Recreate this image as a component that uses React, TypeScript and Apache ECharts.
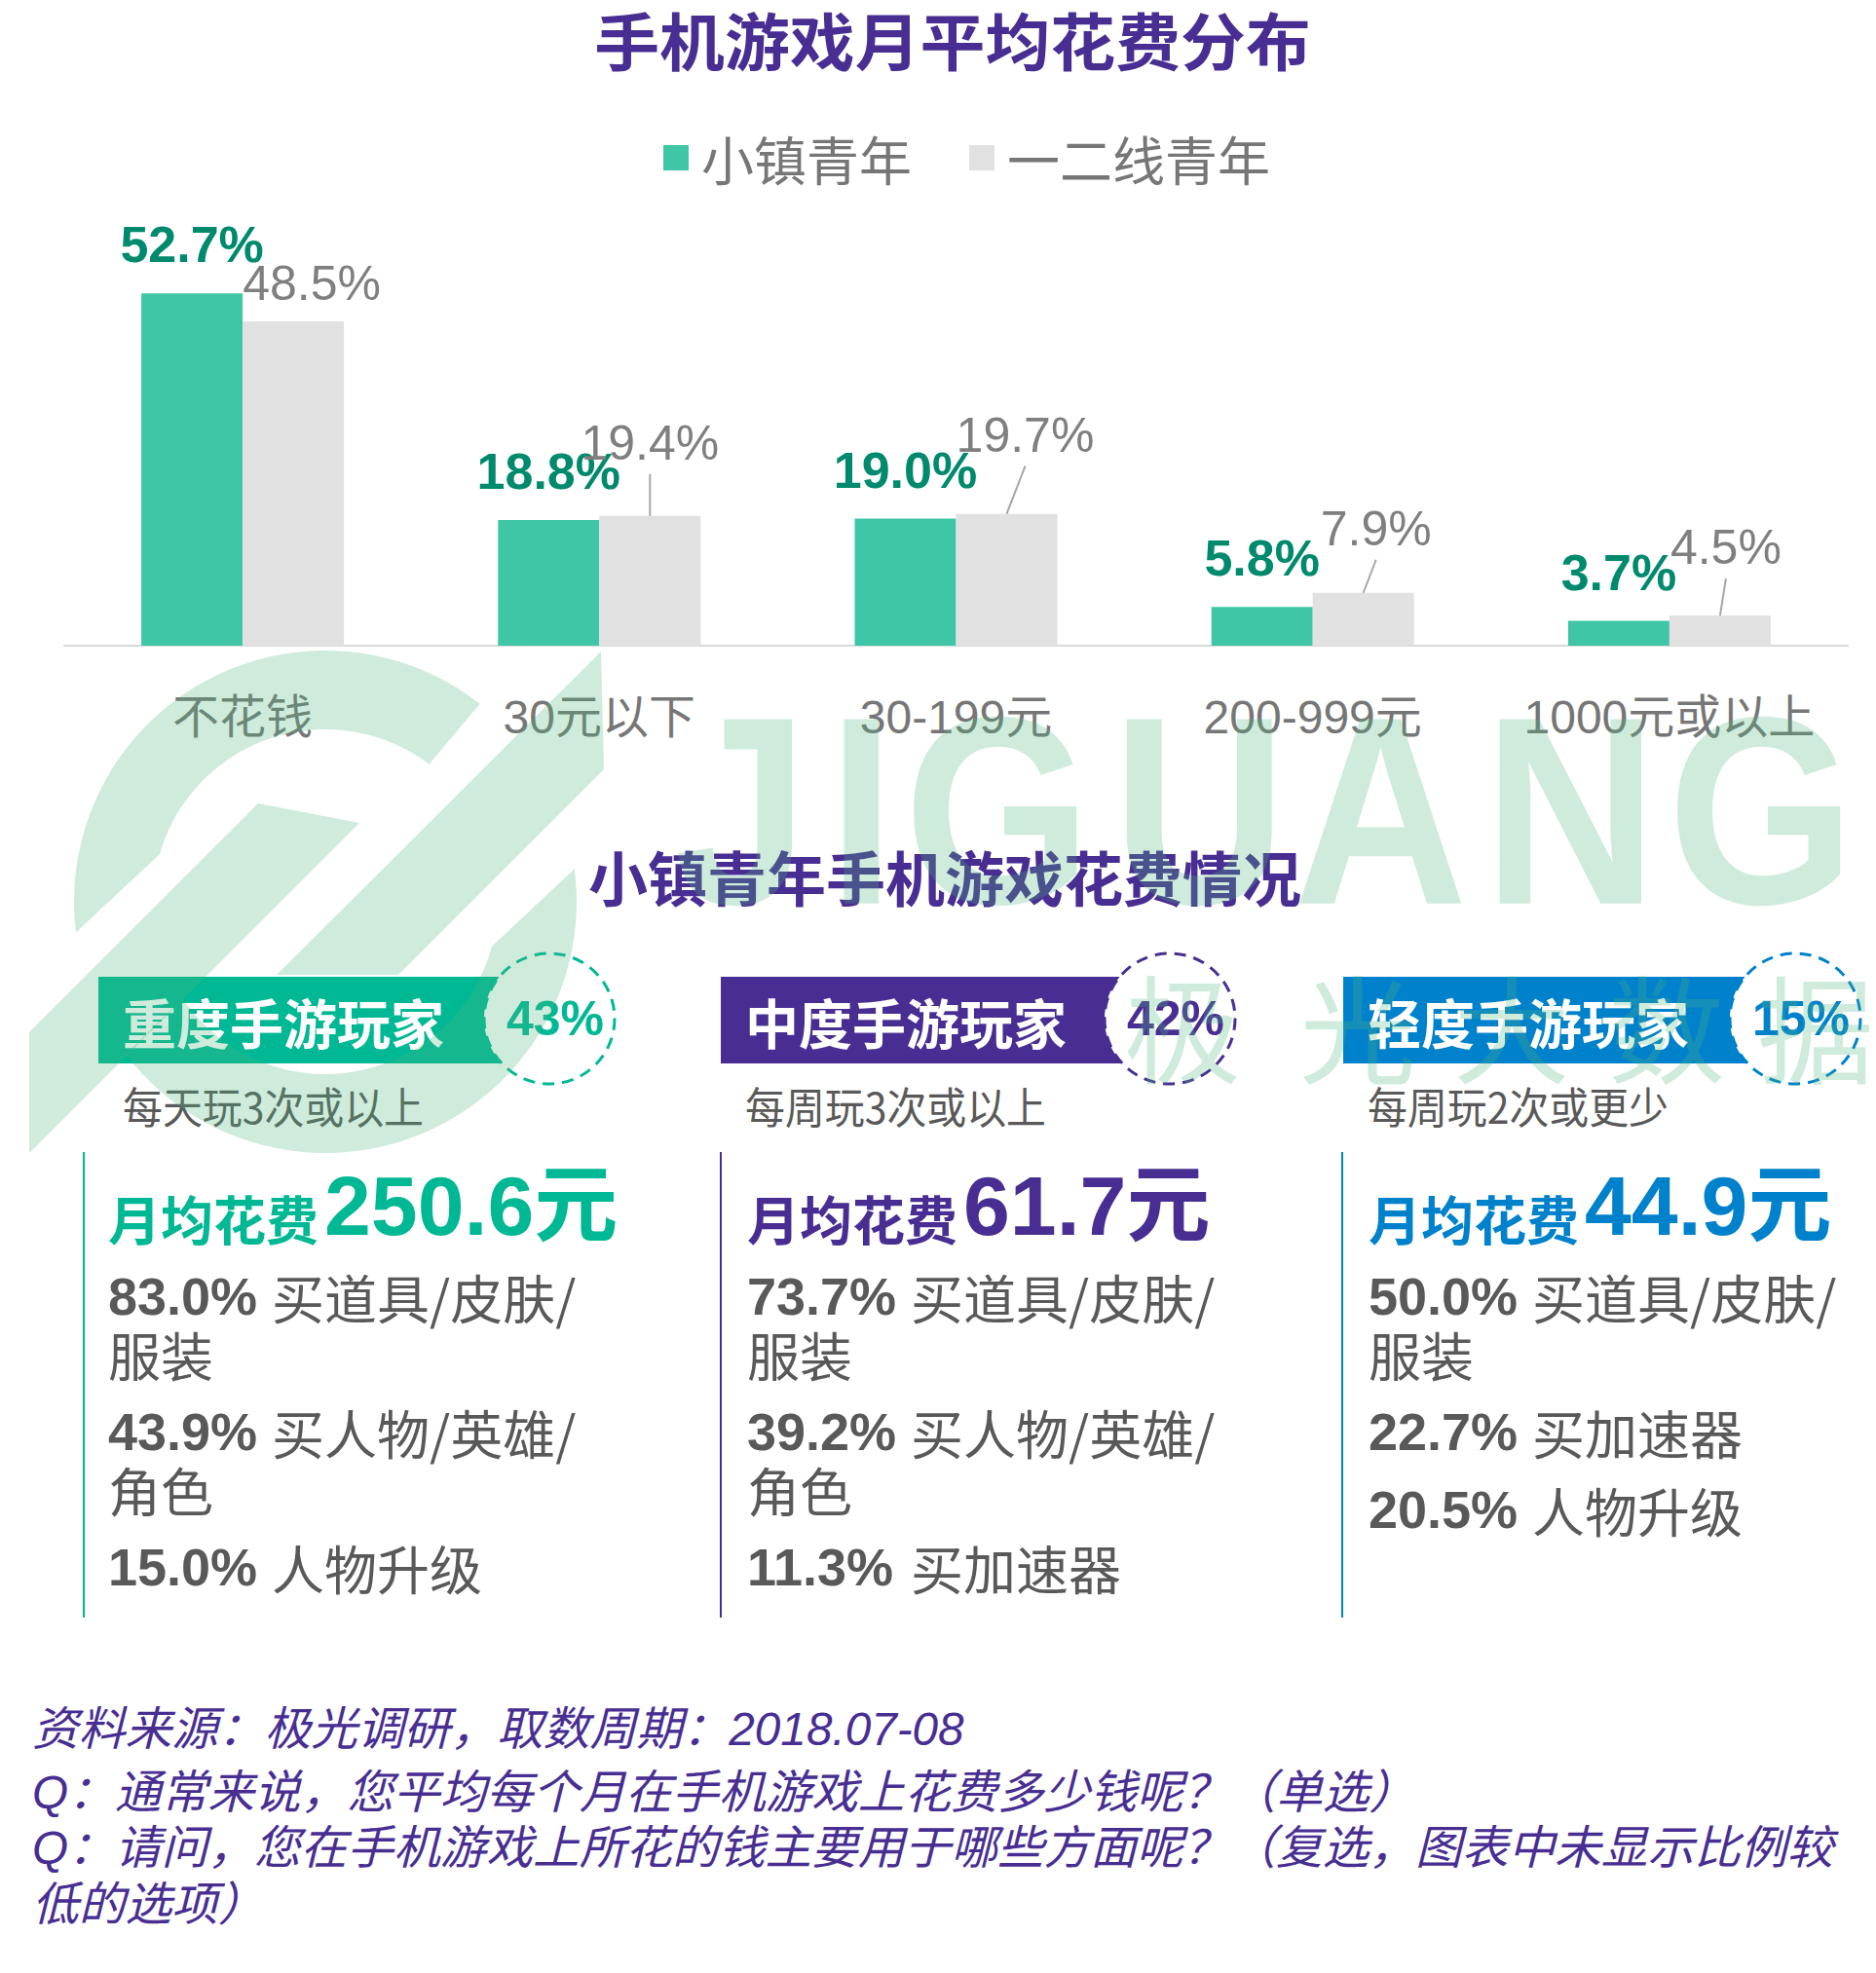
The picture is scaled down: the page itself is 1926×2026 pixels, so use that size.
import React, { useEffect, useRef } from 'react';
import * as echarts from 'echarts';

// ---- chart data ----
const categories = ['不花钱', '30元以下', '30-199元', '200-999元', '1000元或以上'];
const seriesNames = ['小镇青年', '一二线青年'];
const townYouth = [52.7, 18.8, 19.0, 5.8, 3.7];
const cityYouth = [48.5, 19.4, 19.7, 7.9, 4.5];

// label placement for the second series (pixels) and whether a leader line is drawn
const cityLabelShift = [[19, -14], [0, -50], [19, -56], [13, -41], [6, -45]];
const cityLabelLeader = [false, true, true, true, true];

// ---- player groups ----
const playerTypes = ['重度手游玩家', '中度手游玩家', '轻度手游玩家'];
const playerShares = [43, 42, 15];
const playFrequency = ['每天玩3次或以上', '每周玩3次或以上', '每周玩2次或更少'];
const monthlySpend = [250.6, 61.7, 44.9];

const heavyRates = [83.0, 43.9, 15.0];
const heavyItems = ['买道具/皮肤/\n服装', '买人物/英雄/\n角色', '人物升级'];
const mediumRates = [73.7, 39.2, 11.3];
const mediumItems = ['买道具/皮肤/\n服装', '买人物/英雄/\n角色', '买加速器'];
const lightRates = [50.0, 22.7, 20.5];
const lightItems = ['买道具/皮肤/\n服装', '买加速器', '人物升级'];

const footnotes = [
  '资料来源：极光调研，取数周期：2018.07-08',
  'Q：通常来说，您平均每个月在手机游戏上花费多少钱呢？（单选）',
  'Q：请问，您在手机游戏上所花的钱主要用于哪些方面呢？（复选，图表中未显示比例较',
  '低的选项）',
];

// ---- styling ----
const SANS = "'Liberation Sans', Arial, 'Noto Sans CJK SC', sans-serif";
const CJK = "'Noto Sans CJK SC', 'Noto Sans CJK JP', sans-serif";
const PURPLE = '#482E92';
const GREEN = '#00B894';
const GREEN_BAR = '#3EC6A6';
const GREY_BAR = '#E1E1E1';
const GREEN_DARK = '#008A6D';
const BLUE = '#0081CC';
const GREY_TEXT = '#595959';
const AXIS_TEXT = '#767676';
const WATERMARK = 'rgba(78,181,126,0.27)';
const cardColors = [GREEN, PURPLE, BLUE];

const BAR_WIDTH = 104;
const CITY_LABEL_LINE = 50;

type TextOpts = {
  family?: string;
  weight?: any;
  italic?: boolean;
  align?: string;
  z?: number;
  scaleX?: number;
};

function text(content: string, x: number, y: number, size: number, fill: string, opts: TextOpts = {}) {
  const align = opts.align || 'left';
  return {
    type: 'text',
    x,
    y,
    scaleX: opts.scaleX ?? 1,
    z: opts.z ?? 10,
    silent: true,
    style: {
      text: content,
      fontSize: size,
      lineHeight: size,
      fontFamily: opts.family || SANS,
      fontWeight: opts.weight || 'normal',
      fontStyle: opts.italic ? 'italic' : 'normal',
      fill,
      align,
      verticalAlign: 'middle',
      textAlign: align,
      textVerticalAlign: 'middle',
    },
  };
}

function arcPoints(cx: number, cy: number, rad: number, a0: number, a1: number, steps: number) {
  const pts: number[][] = [];
  for (let k = 0; k <= steps; k++) {
    const a = ((a0 + ((a1 - a0) * k) / steps) * Math.PI) / 180;
    pts.push([cx + rad * Math.cos(a), cy - rad * Math.sin(a)]);
  }
  return pts;
}

function buildCards() {
  const els: any[] = [];
  const lineX = [86, 740, 1378];
  const boxX = [101, 740, 1379];
  const circleX = [564, 1201, 1843];
  const headX = [126, 765, 1404];
  const contentX = [111, 767, 1405];
  const rates = [heavyRates, mediumRates, lightRates];
  const items = [heavyItems, mediumItems, lightItems];
  const boxY = 1003;
  const boxH = 89;
  const circleY = 1046;

  for (let c = 0; c < 3; c++) {
    const color = cardColors[c];
    els.push({
      type: 'rect',
      z: 5,
      silent: true,
      shape: { x: boxX[c], y: boxY, width: circleX[c] - boxX[c], height: boxH },
      style: { fill: color },
    });
    els.push({
      type: 'circle',
      z: 6,
      silent: true,
      shape: { cx: circleX[c], cy: circleY, r: 67 },
      style: { fill: '#ffffff', stroke: color, lineWidth: 3, lineDash: [12, 8] },
    });
    els.push(text(playerTypes[c], headX[c], 1048, 55, '#ffffff', { family: CJK, weight: 'bold' }));
    els.push(
      text(playerShares[c] + '%', circleX[c] + 6, circleY, 50, color, { weight: 'bold', align: 'center' })
    );
    els.push(text(playFrequency[c], headX[c], 1135, 44, GREY_TEXT, { family: CJK, scaleX: 0.93 }));
    els.push({
      type: 'line',
      z: 5,
      silent: true,
      shape: { x1: lineX[c], y1: 1183, x2: lineX[c], y2: 1661 },
      style: { stroke: color, lineWidth: 2 },
    });
    els.push(text('月均花费', contentX[c], 1250, 54, color, { family: CJK, weight: 'bold' }));
    els.push(text(monthlySpend[c].toFixed(1) + '元', contentX[c] + 222, 1238, 86, color, { weight: 'bold' }));

    let y = 1331;
    for (let k = 0; k < rates[c].length; k++) {
      const lines = items[c][k].split('\n');
      els.push(text(rates[c][k].toFixed(1) + '%', contentX[c], y, 54, GREY_TEXT, { weight: 'bold' }));
      els.push(text(lines[0], contentX[c] + 168, y, 54, GREY_TEXT, { family: CJK }));
      for (let j = 1; j < lines.length; j++) {
        y += 59;
        els.push(text(lines[j], contentX[c], y, 54, GREY_TEXT, { family: CJK }));
      }
      y += 80;
    }
  }
  return els;
}

function buildWatermark() {
  const els: any[] = [];
  const cx = 334;
  const cy = 926;
  const R = 258;
  const r = 177;
  const upper = [...arcPoints(cx, cy, R, 52, 187, 45), ...arcPoints(cx, cy, r, 164, 53, 40)];
  const lower = [...arcPoints(cx, cy, R, 7.5, -142.6, 50), ...arcPoints(cx, cy, r, -146, -15, 40)];
  const stripeLeft = [[265, 825], [369, 845], [30, 1184], [30, 1060]];
  const stripeRight = [[617, 669], [620, 790], [409, 1001], [284, 1001]];
  [upper, lower, stripeLeft, stripeRight].forEach((pts) =>
    els.push({ type: 'polygon', z: 50, silent: true, shape: { points: pts }, style: { fill: WATERMARK } })
  );

  // brand lettering, one glyph at a time
  els.push(text('J', 830, 832, 275, WATERMARK, { weight: 'bold', z: 50, align: 'right', scaleX: 0.9 }));
  const letters = ['I', 'G', 'U', 'A', 'N', 'G'];
  const letterX = [850, 928, 1142, 1328, 1523, 1712];
  letters.forEach((ch, i) =>
    els.push(text(ch, letterX[i], 832, 275, WATERMARK, { weight: 'bold', z: 50, scaleX: 0.9 }))
  );

  const brand = ['极', '光', '大', '数', '据'];
  const brandX = [1214, 1394, 1552, 1711, 1864];
  brand.forEach((ch, i) =>
    els.push(text(ch, brandX[i], 1052, 120, WATERMARK, { family: CJK, align: 'center', z: 50 }))
  );
  return els;
}

export default function App() {
  const ref = useRef<HTMLDivElement>(null);

  useEffect(() => {
    document.body.style.margin = '0';
    if (!ref.current) return;
    const chart = echarts.init(ref.current, null, { renderer: 'svg' });

    const option: any = {
      animation: false,
      backgroundColor: '#ffffff',
      legend: {
        data: seriesNames,
        left: 681,
        top: 134,
        padding: 0,
        itemWidth: 26,
        itemHeight: 26,
        itemGap: 59,
        icon: 'rect',
        selectedMode: false,
        textStyle: {
          fontSize: 54,
          lineHeight: 56,
          color: AXIS_TEXT,
          fontFamily: CJK,
          padding: [0, 0, 0, 8],
        },
      },
      grid: { left: 66, right: 29, top: 251, bottom: 2026 - 663, containLabel: false },
      xAxis: {
        type: 'category',
        data: categories,
        axisTick: { show: false },
        axisLine: { lineStyle: { color: '#D9D9D9', width: 2 } },
        axisLabel: {
          fontSize: 48,
          lineHeight: 48,
          margin: 49,
          color: AXIS_TEXT,
          fontFamily: SANS,
          interval: 0,
        },
      },
      yAxis: { type: 'value', min: 0, max: 60, show: false, splitLine: { show: false } },
      series: [
        {
          name: seriesNames[0],
          type: 'bar',
          data: townYouth,
          barWidth: BAR_WIDTH,
          barGap: '0%',
          itemStyle: { color: GREEN_BAR },
          label: {
            show: true,
            position: 'top',
            distance: 24,
            fontSize: 52,
            lineHeight: 52,
            fontWeight: 'bold',
            fontFamily: SANS,
            color: GREEN_DARK,
            formatter: (p: any) => Number(p.value).toFixed(1) + '%',
          },
        },
        {
          name: seriesNames[1],
          type: 'bar',
          barWidth: BAR_WIDTH,
          barGap: '0%',
          data: cityYouth.map((v, i) => ({ value: v, label: { offset: cityLabelShift[i] } })),
          itemStyle: { color: GREY_BAR },
          label: {
            show: true,
            position: 'top',
            distance: 0,
            fontSize: 50,
            lineHeight: CITY_LABEL_LINE,
            fontFamily: SANS,
            color: '#7F7F7F',
            formatter: (p: any) => Number(p.value).toFixed(1) + '%',
          },
        },
        {
          type: 'custom',
          silent: true,
          z: 3,
          data: cityYouth.map((v, i) => [i, v]),
          renderItem: (params: any, api: any) => {
            const i = params.dataIndex;
            if (!cityLabelLeader[i]) return { type: 'group', children: [] };
            const top = api.coord([api.value(0), api.value(1)]);
            const bx = top[0] + BAR_WIDTH / 2;
            const [dx, dy] = cityLabelShift[i];
            const labelCenter = top[1] - CITY_LABEL_LINE / 2 + dy;
            return {
              type: 'line',
              shape: { x1: bx + dx, y1: labelCenter + 32, x2: bx, y2: top[1] },
              style: { stroke: '#A6A6A6', lineWidth: 2 },
            };
          },
        },
      ],
      graphic: {
        elements: [
          text('手机游戏月平均花费分布', 978, 39, 64, PURPLE, {
            family: CJK,
            weight: 'bold',
            align: 'center',
            scaleX: 1.045,
          }),
          text('小镇青年手机游戏花费情况', 970, 899, 61, PURPLE, { family: CJK, weight: 'bold', align: 'center' }),
          ...buildCards(),
          ...footnotes.map((line, i) =>
            text(line, 33, [1775, 1840, 1897, 1955][i], 47.7, PURPLE, { italic: true })
          ),
          ...buildWatermark(),
        ],
      },
    };

    chart.setOption(option);
    return () => chart.dispose();
  }, []);

  return (
    <div
      ref={ref}
      style={{ position: 'absolute', left: 0, top: 0, width: 1926, height: 2026, background: '#fff' }}
    />
  );
}
